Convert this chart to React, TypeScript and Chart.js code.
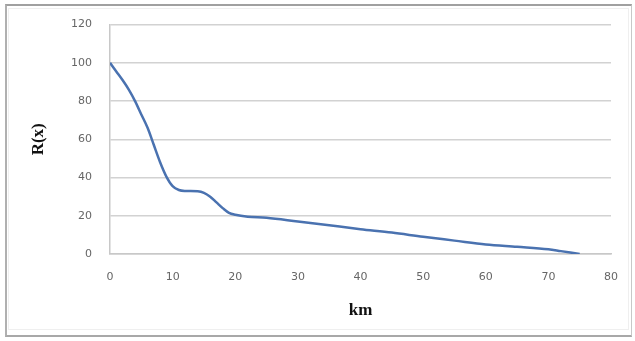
import React, { useEffect, useRef } from "react";
import { Chart, registerables } from "chart.js";

Chart.register(...registerables);

const kmValues = [0, 1, 2, 3, 4, 5, 6, 7, 8, 9, 10, 11, 12, 14, 15, 16, 17, 18, 19, 20, 22, 25, 30, 35, 40, 45, 50, 55, 60, 65, 70, 72, 75];
const rValues = [100, 95.5, 91, 86, 80, 73, 66, 57, 48, 40.5, 35.5, 33.5, 33, 32.8, 32, 30, 27, 24, 21.5, 20.5, 19.5, 19, 17, 15, 13, 11.2, 9, 7, 5, 3.8, 2.5, 1.5, 0];
const xTicks = [0, 10, 20, 30, 40, 50, 60, 70, 80];
const yTicks = [0, 20, 40, 60, 80, 100, 120];
const xTitle = "km";
const yTitle = "R(x)";

export default function App() {
  const ref = useRef<HTMLCanvasElement | null>(null);
  useEffect(() => {
    if (!ref.current) return;
    const points = kmValues.map((x, i) => ({ x, y: rValues[i] }));
    const tickFont = { family: "'DejaVu Sans', sans-serif", size: 11 };
    const titleFont = { family: "'Liberation Serif', 'Times New Roman', serif", size: 17, weight: "bold" as const };
    const chart = new Chart(ref.current, {
      type: "scatter",
      data: {
        datasets: [
          {
            data: points,
            showLine: true,
            borderColor: "#4a72b0",
            backgroundColor: "#4a72b0",
            borderWidth: 2.5,
            pointRadius: 0,
            cubicInterpolationMode: "monotone",
          },
        ],
      },
      options: {
        responsive: false,
        animation: false,
        devicePixelRatio: 1,
        layout: { padding: { left: 0, right: 20, top: 22, bottom: 0 } },
        plugins: { legend: { display: false }, tooltip: { enabled: false } },
        scales: {
          x: {
            type: "linear",
            min: xTicks[0],
            max: xTicks[xTicks.length - 1],
            afterBuildTicks: (s: any) => {
              s.ticks = xTicks.map((v) => ({ value: v }));
            },
            afterFit: (s: any) => {
              s.height = 87;
            },
            grid: { display: false, drawTicks: false },
            border: { display: true, color: "#c8c8c8", width: 1.5 },
            ticks: { color: "#666", font: tickFont, padding: 17, maxRotation: 0 },
            title: { display: true, text: xTitle, color: "#111", font: titleFont, padding: { top: 0, bottom: 20 } },
          },
          y: {
            type: "linear",
            min: yTicks[0],
            max: yTicks[yTicks.length - 1],
            afterBuildTicks: (s: any) => {
              s.ticks = yTicks.map((v) => ({ value: v }));
            },
            afterFit: (s: any) => {
              s.width = 110;
            },
            grid: { color: "#d2d2d2", lineWidth: 1.5, drawTicks: false },
            border: { display: true, color: "#c8c8c8", width: 1.5 },
            ticks: { color: "#666", font: tickFont, padding: 18 },
            title: { display: true, text: yTitle, color: "#111", font: titleFont, padding: { top: 28, bottom: 0 } },
          },
        },
      },
    });
    return () => chart.destroy();
  }, []);

  return (
    <div style={{ position: "fixed", left: 0, top: 0, width: 635, height: 341, background: "#fff" }}>
      <div
        style={{
          position: "absolute",
          left: 5,
          top: 4,
          width: 627,
          height: 333,
          boxSizing: "border-box",
          borderTop: "2px solid #a0a0a0",
          borderLeft: "2px solid #b0b0b0",
          borderRight: "1px solid #c8c8c8",
          borderBottom: "2px solid #a8a8a8",
        }}
      />
      <div
        style={{
          position: "absolute",
          left: 8,
          top: 8,
          width: 621,
          height: 322,
          boxSizing: "border-box",
          border: "1px solid #efefef",
        }}
      />
      <canvas ref={ref} width={635} height={341} style={{ position: "absolute", left: 0, top: 0, width: 635, height: 341 }} />
    </div>
  );
}
